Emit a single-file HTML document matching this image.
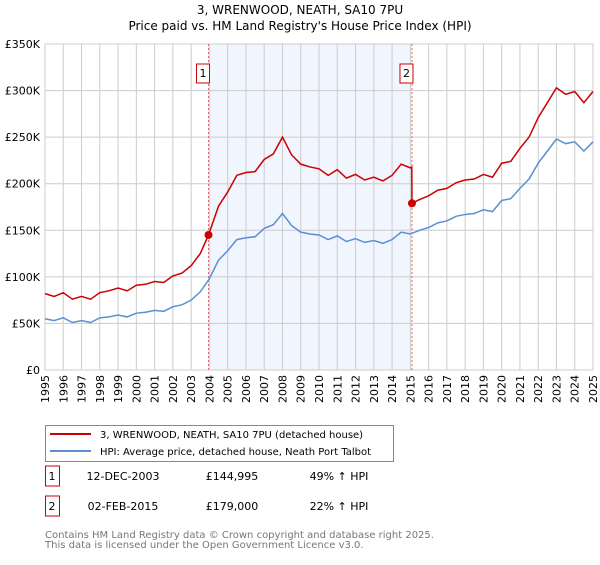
<!DOCTYPE html>
<html><head><meta charset="utf-8"><style>
body{margin:0;background:#fff;font-family:"Liberation Sans","DejaVu Sans",sans-serif;}
svg text{font-family:"DejaVu Sans","Liberation Sans",sans-serif;}
</style></head><body>
<svg id="c" width="600" height="560" xmlns="http://www.w3.org/2000/svg"></svg>
<script>
const hpiYears=[];for(let y=1995;y<=2025.001;y+=0.5)hpiYears.push(y);
const hpiValues=[55,53,56,51,53,51,56,57,59,57,61,62,64,63,68,70,75,84,98,118,128,140,142,143,152,156,168,155,148,146,145,140,144,138,141,137,139,136,140,148,146,150,153,158,160,165,167,168,172,170,182,184,195,205,222,235,248,243,245,235,245];
const redYears=[1995,1995.5,1996,1996.5,1997,1997.5,1998,1998.5,1999,1999.5,2000,2000.5,2001,2001.5,2002,2002.5,2003,2003.5,2003.95,2004.5,2005,2005.5,2006,2006.5,2007,2007.5,2008,2008.5,2009,2009.5,2010,2010.5,2011,2011.5,2012,2012.5,2013,2013.5,2014,2014.5,2015,2015.08,2015.09,2015.5,2016,2016.5,2017,2017.5,2018,2018.5,2019,2019.5,2020,2020.5,2021,2021.5,2022,2022.5,2023,2023.5,2024,2024.5,2025];
const redValues=[82,79,83,76,79,76,83,85,88,85,91,92,95,94,101,104,112,125,145,176,191,209,212,213,226,232,250,231,221,218,216,209,215,206,210,204,207,203,209,221,217,218,179,183,187,193,195,201,204,205,210,207,222,224,238,250,271,287,303,296,299,287,299];
const yTicks=[0,50,100,150,200,250,300,350];
const yTickLabels=["£0","£50K","£100K","£150K","£200K","£250K","£300K","£350K"];
const sales=[{n:"1",t:2003.95,v:144.995},{n:"2",t:2015.09,v:179}];
const X0=45,X1=593,Y0=370,Y1=44;
const x=t=>X0+(t-1995)*(X1-X0)/30, y=v=>Y0-v*(Y0-Y1)/350;
const svg=document.getElementById('c');const NS="http://www.w3.org/2000/svg";
function mk(tag,at,parent){const e=document.createElementNS(NS,tag);for(const k in at)e.setAttribute(k,at[k]);(parent||svg).appendChild(e);return e;}
let t=mk('text',{x:300,y:14,'text-anchor':'middle','font-size':12});t.textContent="3, WRENWOOD, NEATH, SA10 7PU";


t=mk('text',{x:300,y:30,'text-anchor':'middle','font-size':12});t.textContent="Price paid vs. HM Land Registry's House Price Index (HPI)";


let r=mk('rect',{x:x(sales[0].t),y:Y1,width:x(sales[1].t)-x(sales[0].t),height:Y0-Y1,fill:'#eef3fd',opacity:0.8});


for(let yr=1995;yr<=2025;yr++){let l=mk('line',{x1:x(yr),x2:x(yr),y1:Y1,y2:Y0,stroke:'#ccc','stroke-width':1});


let tx=mk('text',{transform:`translate(${x(yr)+4},${Y0+5}) rotate(-90)`,'text-anchor':'end','font-size':11});tx.textContent=yr;

}
yTicks.forEach((v,i)=>{let l=mk('line',{x1:X0,x2:X1,y1:y(v),y2:y(v),stroke:'#ccc','stroke-width':1});


let tx=mk('text',{x:X0-5,y:y(v)+4,'text-anchor':'end','font-size':11});tx.textContent=yTickLabels[i];

});
let ax=mk('rect',{x:X0,y:Y1,width:X1-X0,height:Y0-Y1,fill:'none',stroke:'#ccc'});


sales.forEach(s=>{let l=mk('line',{x1:x(s.t),x2:x(s.t),y1:Y1,y2:Y0,stroke:'#e66','stroke-dasharray':'2,2'});


let b=mk('rect',{x:x(s.t)-12,y:64,width:13,height:19,fill:'#fff',stroke:'#c00'});


let tx=mk('text',{x:x(s.t)-5.5,y:77,'text-anchor':'middle','font-size':11});tx.textContent=s.n;

});
let p=mk('polyline',{points:hpiYears.map((t,i)=>x(t)+','+y(hpiValues[i])).join(' '),fill:'none',stroke:'#5b8fd4','stroke-width':1.5});


p=mk('polyline',{points:redYears.map((t,i)=>x(t)+','+y(redValues[i])).join(' '),fill:'none',stroke:'#cc0000','stroke-width':1.5});


sales.forEach(s=>{let c=mk('circle',{cx:x(s.t),cy:y(s.v),r:4,fill:'#cc0000'});

});
let lg=mk('rect',{x:45.5,y:425.5,width:348,height:36,fill:'#fff',stroke:'#888'});


[['#cc0000',"3, WRENWOOD, NEATH, SA10 7PU (detached house)",434],['#5b8fd4',"HPI: Average price, detached house, Neath Port Talbot",451]].forEach(([c,s,yy])=>{
let l=mk('line',{x1:50,x2:91,y1:yy,y2:yy,stroke:c,'stroke-width':2});


let tx=mk('text',{x:100,y:yy+4,'font-size':10});tx.textContent=s;

});
[["1","12-DEC-2003","£144,995","49% ↑ HPI",484],["2","02-FEB-2015","£179,000","22% ↑ HPI",514]].forEach(([n,d,pr,h,yy])=>{
let b=mk('rect',{x:45.5,y:yy-18,width:14,height:20,fill:'#fff',stroke:'#c00'});


const cells=[[n,52,'middle'],[d,123,'middle'],[pr,232,'middle'],[h,339,'middle']];
cells.forEach(([s,xx,a])=>{let tx=mk('text',{x:xx,y:yy-4,'text-anchor':a,'font-size':11});tx.textContent=s;

});});
[["Contains HM Land Registry data © Crown copyright and database right 2025.",538],["This data is licensed under the Open Government Licence v3.0.",548]].forEach(([s,yy])=>{
let tx=mk('text',{x:45,y:yy,'font-size':10,fill:'#777'});tx.textContent=s;

});
</script>
</body></html>
